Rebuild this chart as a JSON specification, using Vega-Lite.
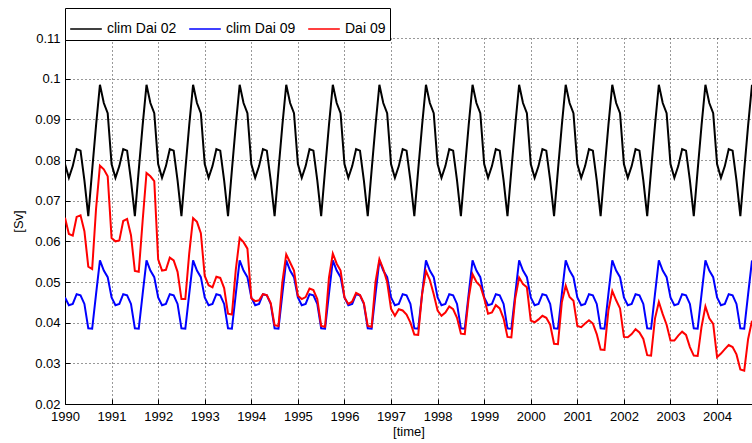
{
"$schema":"https://vega.github.io/schema/vega-lite/v6.json",
"width":687,"height":366,
"autosize":{"type":"none"},
"padding":{"left":65,"top":38,"right":0,"bottom":39},
"background":"white",
"config":{"view":{"stroke":null},"font":"Liberation Sans"},
"data":{"values":[
{"t":1990.0,"clim Dai 02":0.0790,"clim Dai 09":0.0462,"Dai 09":0.0658},
{"t":1990.0833,"clim Dai 02":0.0756,"clim Dai 09":0.0443,"Dai 09":0.0618},
{"t":1990.1667,"clim Dai 02":0.0785,"clim Dai 09":0.0446,"Dai 09":0.0614},
{"t":1990.25,"clim Dai 02":0.0827,"clim Dai 09":0.0470,"Dai 09":0.0660},
{"t":1990.3333,"clim Dai 02":0.0823,"clim Dai 09":0.0467,"Dai 09":0.0664},
{"t":1990.4167,"clim Dai 02":0.0750,"clim Dai 09":0.0446,"Dai 09":0.0625},
{"t":1990.5,"clim Dai 02":0.0662,"clim Dai 09":0.0386,"Dai 09":0.0538},
{"t":1990.5833,"clim Dai 02":0.0775,"clim Dai 09":0.0385,"Dai 09":0.0532},
{"t":1990.6667,"clim Dai 02":0.0885,"clim Dai 09":0.0470,"Dai 09":0.0680},
{"t":1990.75,"clim Dai 02":0.0985,"clim Dai 09":0.0553,"Dai 09":0.0786},
{"t":1990.8333,"clim Dai 02":0.0940,"clim Dai 09":0.0528,"Dai 09":0.0777},
{"t":1990.9167,"clim Dai 02":0.0915,"clim Dai 09":0.0512,"Dai 09":0.0760},
{"t":1991.0,"clim Dai 02":0.0790,"clim Dai 09":0.0462,"Dai 09":0.0608},
{"t":1991.0833,"clim Dai 02":0.0756,"clim Dai 09":0.0443,"Dai 09":0.0600},
{"t":1991.1667,"clim Dai 02":0.0785,"clim Dai 09":0.0446,"Dai 09":0.0602},
{"t":1991.25,"clim Dai 02":0.0827,"clim Dai 09":0.0470,"Dai 09":0.0650},
{"t":1991.3333,"clim Dai 02":0.0823,"clim Dai 09":0.0467,"Dai 09":0.0655},
{"t":1991.4167,"clim Dai 02":0.0750,"clim Dai 09":0.0446,"Dai 09":0.0615},
{"t":1991.5,"clim Dai 02":0.0662,"clim Dai 09":0.0386,"Dai 09":0.0527},
{"t":1991.5833,"clim Dai 02":0.0775,"clim Dai 09":0.0385,"Dai 09":0.0525},
{"t":1991.6667,"clim Dai 02":0.0885,"clim Dai 09":0.0470,"Dai 09":0.0650},
{"t":1991.75,"clim Dai 02":0.0985,"clim Dai 09":0.0553,"Dai 09":0.0768},
{"t":1991.8333,"clim Dai 02":0.0940,"clim Dai 09":0.0528,"Dai 09":0.0760},
{"t":1991.9167,"clim Dai 02":0.0915,"clim Dai 09":0.0512,"Dai 09":0.0748},
{"t":1992.0,"clim Dai 02":0.0790,"clim Dai 09":0.0462,"Dai 09":0.0556},
{"t":1992.0833,"clim Dai 02":0.0756,"clim Dai 09":0.0443,"Dai 09":0.0528},
{"t":1992.1667,"clim Dai 02":0.0785,"clim Dai 09":0.0446,"Dai 09":0.0530},
{"t":1992.25,"clim Dai 02":0.0827,"clim Dai 09":0.0470,"Dai 09":0.0560},
{"t":1992.3333,"clim Dai 02":0.0823,"clim Dai 09":0.0467,"Dai 09":0.0553},
{"t":1992.4167,"clim Dai 02":0.0750,"clim Dai 09":0.0446,"Dai 09":0.0525},
{"t":1992.5,"clim Dai 02":0.0662,"clim Dai 09":0.0386,"Dai 09":0.0458},
{"t":1992.5833,"clim Dai 02":0.0775,"clim Dai 09":0.0385,"Dai 09":0.0458},
{"t":1992.6667,"clim Dai 02":0.0885,"clim Dai 09":0.0470,"Dai 09":0.0570},
{"t":1992.75,"clim Dai 02":0.0985,"clim Dai 09":0.0553,"Dai 09":0.0657},
{"t":1992.8333,"clim Dai 02":0.0940,"clim Dai 09":0.0528,"Dai 09":0.0648},
{"t":1992.9167,"clim Dai 02":0.0915,"clim Dai 09":0.0512,"Dai 09":0.0620},
{"t":1993.0,"clim Dai 02":0.0790,"clim Dai 09":0.0462,"Dai 09":0.0515},
{"t":1993.0833,"clim Dai 02":0.0756,"clim Dai 09":0.0443,"Dai 09":0.0492},
{"t":1993.1667,"clim Dai 02":0.0785,"clim Dai 09":0.0446,"Dai 09":0.0487},
{"t":1993.25,"clim Dai 02":0.0827,"clim Dai 09":0.0470,"Dai 09":0.0513},
{"t":1993.3333,"clim Dai 02":0.0823,"clim Dai 09":0.0467,"Dai 09":0.0510},
{"t":1993.4167,"clim Dai 02":0.0750,"clim Dai 09":0.0446,"Dai 09":0.0485},
{"t":1993.5,"clim Dai 02":0.0662,"clim Dai 09":0.0386,"Dai 09":0.0422},
{"t":1993.5833,"clim Dai 02":0.0775,"clim Dai 09":0.0385,"Dai 09":0.0420},
{"t":1993.6667,"clim Dai 02":0.0885,"clim Dai 09":0.0470,"Dai 09":0.0530},
{"t":1993.75,"clim Dai 02":0.0985,"clim Dai 09":0.0553,"Dai 09":0.0608},
{"t":1993.8333,"clim Dai 02":0.0940,"clim Dai 09":0.0528,"Dai 09":0.0598},
{"t":1993.9167,"clim Dai 02":0.0915,"clim Dai 09":0.0512,"Dai 09":0.0582},
{"t":1994.0,"clim Dai 02":0.0790,"clim Dai 09":0.0462,"Dai 09":0.0460},
{"t":1994.0833,"clim Dai 02":0.0756,"clim Dai 09":0.0443,"Dai 09":0.0453},
{"t":1994.1667,"clim Dai 02":0.0785,"clim Dai 09":0.0446,"Dai 09":0.0455},
{"t":1994.25,"clim Dai 02":0.0827,"clim Dai 09":0.0470,"Dai 09":0.0470},
{"t":1994.3333,"clim Dai 02":0.0823,"clim Dai 09":0.0467,"Dai 09":0.0468},
{"t":1994.4167,"clim Dai 02":0.0750,"clim Dai 09":0.0446,"Dai 09":0.0448},
{"t":1994.5,"clim Dai 02":0.0662,"clim Dai 09":0.0386,"Dai 09":0.0394},
{"t":1994.5833,"clim Dai 02":0.0775,"clim Dai 09":0.0385,"Dai 09":0.0392},
{"t":1994.6667,"clim Dai 02":0.0885,"clim Dai 09":0.0470,"Dai 09":0.0500},
{"t":1994.75,"clim Dai 02":0.0985,"clim Dai 09":0.0553,"Dai 09":0.0568},
{"t":1994.8333,"clim Dai 02":0.0940,"clim Dai 09":0.0528,"Dai 09":0.0548},
{"t":1994.9167,"clim Dai 02":0.0915,"clim Dai 09":0.0512,"Dai 09":0.0528},
{"t":1995.0,"clim Dai 02":0.0790,"clim Dai 09":0.0462,"Dai 09":0.0466},
{"t":1995.0833,"clim Dai 02":0.0756,"clim Dai 09":0.0443,"Dai 09":0.0458},
{"t":1995.1667,"clim Dai 02":0.0785,"clim Dai 09":0.0446,"Dai 09":0.0463},
{"t":1995.25,"clim Dai 02":0.0827,"clim Dai 09":0.0470,"Dai 09":0.0484},
{"t":1995.3333,"clim Dai 02":0.0823,"clim Dai 09":0.0467,"Dai 09":0.0480},
{"t":1995.4167,"clim Dai 02":0.0750,"clim Dai 09":0.0446,"Dai 09":0.0458},
{"t":1995.5,"clim Dai 02":0.0662,"clim Dai 09":0.0386,"Dai 09":0.0392},
{"t":1995.5833,"clim Dai 02":0.0775,"clim Dai 09":0.0385,"Dai 09":0.0390},
{"t":1995.6667,"clim Dai 02":0.0885,"clim Dai 09":0.0470,"Dai 09":0.0510},
{"t":1995.75,"clim Dai 02":0.0985,"clim Dai 09":0.0553,"Dai 09":0.0570},
{"t":1995.8333,"clim Dai 02":0.0940,"clim Dai 09":0.0528,"Dai 09":0.0545},
{"t":1995.9167,"clim Dai 02":0.0915,"clim Dai 09":0.0512,"Dai 09":0.0528},
{"t":1996.0,"clim Dai 02":0.0790,"clim Dai 09":0.0462,"Dai 09":0.0462},
{"t":1996.0833,"clim Dai 02":0.0756,"clim Dai 09":0.0443,"Dai 09":0.0446},
{"t":1996.1667,"clim Dai 02":0.0785,"clim Dai 09":0.0446,"Dai 09":0.0452},
{"t":1996.25,"clim Dai 02":0.0827,"clim Dai 09":0.0470,"Dai 09":0.0473},
{"t":1996.3333,"clim Dai 02":0.0823,"clim Dai 09":0.0467,"Dai 09":0.0468},
{"t":1996.4167,"clim Dai 02":0.0750,"clim Dai 09":0.0446,"Dai 09":0.0448},
{"t":1996.5,"clim Dai 02":0.0662,"clim Dai 09":0.0386,"Dai 09":0.0392},
{"t":1996.5833,"clim Dai 02":0.0775,"clim Dai 09":0.0385,"Dai 09":0.0390},
{"t":1996.6667,"clim Dai 02":0.0885,"clim Dai 09":0.0470,"Dai 09":0.0500},
{"t":1996.75,"clim Dai 02":0.0985,"clim Dai 09":0.0553,"Dai 09":0.0556},
{"t":1996.8333,"clim Dai 02":0.0940,"clim Dai 09":0.0528,"Dai 09":0.0532},
{"t":1996.9167,"clim Dai 02":0.0915,"clim Dai 09":0.0512,"Dai 09":0.0500},
{"t":1997.0,"clim Dai 02":0.0790,"clim Dai 09":0.0462,"Dai 09":0.0434},
{"t":1997.0833,"clim Dai 02":0.0756,"clim Dai 09":0.0443,"Dai 09":0.0417},
{"t":1997.1667,"clim Dai 02":0.0785,"clim Dai 09":0.0446,"Dai 09":0.0433},
{"t":1997.25,"clim Dai 02":0.0827,"clim Dai 09":0.0470,"Dai 09":0.0430},
{"t":1997.3333,"clim Dai 02":0.0823,"clim Dai 09":0.0467,"Dai 09":0.0420},
{"t":1997.4167,"clim Dai 02":0.0750,"clim Dai 09":0.0446,"Dai 09":0.0400},
{"t":1997.5,"clim Dai 02":0.0662,"clim Dai 09":0.0386,"Dai 09":0.0371},
{"t":1997.5833,"clim Dai 02":0.0775,"clim Dai 09":0.0385,"Dai 09":0.0370},
{"t":1997.6667,"clim Dai 02":0.0885,"clim Dai 09":0.0470,"Dai 09":0.0470},
{"t":1997.75,"clim Dai 02":0.0985,"clim Dai 09":0.0553,"Dai 09":0.0527},
{"t":1997.8333,"clim Dai 02":0.0940,"clim Dai 09":0.0528,"Dai 09":0.0505},
{"t":1997.9167,"clim Dai 02":0.0915,"clim Dai 09":0.0512,"Dai 09":0.0470},
{"t":1998.0,"clim Dai 02":0.0790,"clim Dai 09":0.0462,"Dai 09":0.0430},
{"t":1998.0833,"clim Dai 02":0.0756,"clim Dai 09":0.0443,"Dai 09":0.0417},
{"t":1998.1667,"clim Dai 02":0.0785,"clim Dai 09":0.0446,"Dai 09":0.0425},
{"t":1998.25,"clim Dai 02":0.0827,"clim Dai 09":0.0470,"Dai 09":0.0440},
{"t":1998.3333,"clim Dai 02":0.0823,"clim Dai 09":0.0467,"Dai 09":0.0433},
{"t":1998.4167,"clim Dai 02":0.0750,"clim Dai 09":0.0446,"Dai 09":0.0412},
{"t":1998.5,"clim Dai 02":0.0662,"clim Dai 09":0.0386,"Dai 09":0.0373},
{"t":1998.5833,"clim Dai 02":0.0775,"clim Dai 09":0.0385,"Dai 09":0.0372},
{"t":1998.6667,"clim Dai 02":0.0885,"clim Dai 09":0.0470,"Dai 09":0.0460},
{"t":1998.75,"clim Dai 02":0.0985,"clim Dai 09":0.0553,"Dai 09":0.0519},
{"t":1998.8333,"clim Dai 02":0.0940,"clim Dai 09":0.0528,"Dai 09":0.0500},
{"t":1998.9167,"clim Dai 02":0.0915,"clim Dai 09":0.0512,"Dai 09":0.0490},
{"t":1999.0,"clim Dai 02":0.0790,"clim Dai 09":0.0462,"Dai 09":0.0460},
{"t":1999.0833,"clim Dai 02":0.0756,"clim Dai 09":0.0443,"Dai 09":0.0422},
{"t":1999.1667,"clim Dai 02":0.0785,"clim Dai 09":0.0446,"Dai 09":0.0425},
{"t":1999.25,"clim Dai 02":0.0827,"clim Dai 09":0.0470,"Dai 09":0.0443},
{"t":1999.3333,"clim Dai 02":0.0823,"clim Dai 09":0.0467,"Dai 09":0.0435},
{"t":1999.4167,"clim Dai 02":0.0750,"clim Dai 09":0.0446,"Dai 09":0.0410},
{"t":1999.5,"clim Dai 02":0.0662,"clim Dai 09":0.0386,"Dai 09":0.0365},
{"t":1999.5833,"clim Dai 02":0.0775,"clim Dai 09":0.0385,"Dai 09":0.0364},
{"t":1999.6667,"clim Dai 02":0.0885,"clim Dai 09":0.0470,"Dai 09":0.0460},
{"t":1999.75,"clim Dai 02":0.0985,"clim Dai 09":0.0553,"Dai 09":0.0511},
{"t":1999.8333,"clim Dai 02":0.0940,"clim Dai 09":0.0528,"Dai 09":0.0495},
{"t":1999.9167,"clim Dai 02":0.0915,"clim Dai 09":0.0512,"Dai 09":0.0487},
{"t":2000.0,"clim Dai 02":0.0790,"clim Dai 09":0.0462,"Dai 09":0.0405},
{"t":2000.0833,"clim Dai 02":0.0756,"clim Dai 09":0.0443,"Dai 09":0.0401},
{"t":2000.1667,"clim Dai 02":0.0785,"clim Dai 09":0.0446,"Dai 09":0.0408},
{"t":2000.25,"clim Dai 02":0.0827,"clim Dai 09":0.0470,"Dai 09":0.0417},
{"t":2000.3333,"clim Dai 02":0.0823,"clim Dai 09":0.0467,"Dai 09":0.0412},
{"t":2000.4167,"clim Dai 02":0.0750,"clim Dai 09":0.0446,"Dai 09":0.0395},
{"t":2000.5,"clim Dai 02":0.0662,"clim Dai 09":0.0386,"Dai 09":0.0348},
{"t":2000.5833,"clim Dai 02":0.0775,"clim Dai 09":0.0385,"Dai 09":0.0347},
{"t":2000.6667,"clim Dai 02":0.0885,"clim Dai 09":0.0470,"Dai 09":0.0450},
{"t":2000.75,"clim Dai 02":0.0985,"clim Dai 09":0.0553,"Dai 09":0.0491},
{"t":2000.8333,"clim Dai 02":0.0940,"clim Dai 09":0.0528,"Dai 09":0.0463},
{"t":2000.9167,"clim Dai 02":0.0915,"clim Dai 09":0.0512,"Dai 09":0.0454},
{"t":2001.0,"clim Dai 02":0.0790,"clim Dai 09":0.0462,"Dai 09":0.0392},
{"t":2001.0833,"clim Dai 02":0.0756,"clim Dai 09":0.0443,"Dai 09":0.0389},
{"t":2001.1667,"clim Dai 02":0.0785,"clim Dai 09":0.0446,"Dai 09":0.0398},
{"t":2001.25,"clim Dai 02":0.0827,"clim Dai 09":0.0470,"Dai 09":0.0406},
{"t":2001.3333,"clim Dai 02":0.0823,"clim Dai 09":0.0467,"Dai 09":0.0398},
{"t":2001.4167,"clim Dai 02":0.0750,"clim Dai 09":0.0446,"Dai 09":0.0372},
{"t":2001.5,"clim Dai 02":0.0662,"clim Dai 09":0.0386,"Dai 09":0.0334},
{"t":2001.5833,"clim Dai 02":0.0775,"clim Dai 09":0.0385,"Dai 09":0.0333},
{"t":2001.6667,"clim Dai 02":0.0885,"clim Dai 09":0.0470,"Dai 09":0.0430},
{"t":2001.75,"clim Dai 02":0.0985,"clim Dai 09":0.0553,"Dai 09":0.0478},
{"t":2001.8333,"clim Dai 02":0.0940,"clim Dai 09":0.0528,"Dai 09":0.0455},
{"t":2001.9167,"clim Dai 02":0.0915,"clim Dai 09":0.0512,"Dai 09":0.0435},
{"t":2002.0,"clim Dai 02":0.0790,"clim Dai 09":0.0462,"Dai 09":0.0365},
{"t":2002.0833,"clim Dai 02":0.0756,"clim Dai 09":0.0443,"Dai 09":0.0364},
{"t":2002.1667,"clim Dai 02":0.0785,"clim Dai 09":0.0446,"Dai 09":0.0372},
{"t":2002.25,"clim Dai 02":0.0827,"clim Dai 09":0.0470,"Dai 09":0.0384},
{"t":2002.3333,"clim Dai 02":0.0823,"clim Dai 09":0.0467,"Dai 09":0.0376},
{"t":2002.4167,"clim Dai 02":0.0750,"clim Dai 09":0.0446,"Dai 09":0.0360},
{"t":2002.5,"clim Dai 02":0.0662,"clim Dai 09":0.0386,"Dai 09":0.0320},
{"t":2002.5833,"clim Dai 02":0.0775,"clim Dai 09":0.0385,"Dai 09":0.0319},
{"t":2002.6667,"clim Dai 02":0.0885,"clim Dai 09":0.0470,"Dai 09":0.0410},
{"t":2002.75,"clim Dai 02":0.0985,"clim Dai 09":0.0553,"Dai 09":0.0451},
{"t":2002.8333,"clim Dai 02":0.0940,"clim Dai 09":0.0528,"Dai 09":0.0421},
{"t":2002.9167,"clim Dai 02":0.0915,"clim Dai 09":0.0512,"Dai 09":0.0395},
{"t":2003.0,"clim Dai 02":0.0790,"clim Dai 09":0.0462,"Dai 09":0.0356},
{"t":2003.0833,"clim Dai 02":0.0756,"clim Dai 09":0.0443,"Dai 09":0.0356},
{"t":2003.1667,"clim Dai 02":0.0785,"clim Dai 09":0.0446,"Dai 09":0.0368},
{"t":2003.25,"clim Dai 02":0.0827,"clim Dai 09":0.0470,"Dai 09":0.0378},
{"t":2003.3333,"clim Dai 02":0.0823,"clim Dai 09":0.0467,"Dai 09":0.0370},
{"t":2003.4167,"clim Dai 02":0.0750,"clim Dai 09":0.0446,"Dai 09":0.0340},
{"t":2003.5,"clim Dai 02":0.0662,"clim Dai 09":0.0386,"Dai 09":0.0319},
{"t":2003.5833,"clim Dai 02":0.0775,"clim Dai 09":0.0385,"Dai 09":0.0318},
{"t":2003.6667,"clim Dai 02":0.0885,"clim Dai 09":0.0470,"Dai 09":0.0390},
{"t":2003.75,"clim Dai 02":0.0985,"clim Dai 09":0.0553,"Dai 09":0.0440},
{"t":2003.8333,"clim Dai 02":0.0940,"clim Dai 09":0.0528,"Dai 09":0.0411},
{"t":2003.9167,"clim Dai 02":0.0915,"clim Dai 09":0.0512,"Dai 09":0.0397},
{"t":2004.0,"clim Dai 02":0.0790,"clim Dai 09":0.0462,"Dai 09":0.0315},
{"t":2004.0833,"clim Dai 02":0.0756,"clim Dai 09":0.0443,"Dai 09":0.0324},
{"t":2004.1667,"clim Dai 02":0.0785,"clim Dai 09":0.0446,"Dai 09":0.0335},
{"t":2004.25,"clim Dai 02":0.0827,"clim Dai 09":0.0470,"Dai 09":0.0345},
{"t":2004.3333,"clim Dai 02":0.0823,"clim Dai 09":0.0467,"Dai 09":0.0340},
{"t":2004.4167,"clim Dai 02":0.0750,"clim Dai 09":0.0446,"Dai 09":0.0322},
{"t":2004.5,"clim Dai 02":0.0662,"clim Dai 09":0.0386,"Dai 09":0.0285},
{"t":2004.5833,"clim Dai 02":0.0775,"clim Dai 09":0.0385,"Dai 09":0.0282},
{"t":2004.6667,"clim Dai 02":0.0885,"clim Dai 09":0.0470,"Dai 09":0.0360},
{"t":2004.75,"clim Dai 02":0.0985,"clim Dai 09":0.0553,"Dai 09":0.0405}
]},
"transform":[{"fold":["clim Dai 02","clim Dai 09","Dai 09"],"as":["series","v"]}],
"mark":{"type":"line","strokeWidth":2,"clip":true},
"encoding":{
"x":{"field":"t","type":"quantitative","scale":{"domain":[1990,2004.75],"nice":false,"zero":false},
"axis":{"values":[1990,1991,1992,1993,1994,1995,1996,1997,1998,1999,2000,2001,2002,2003,2004],"format":"d","title":"[time]","titleFontWeight":"normal","titleFontSize":13,"titleFont":"Liberation Sans","titlePadding":2,"labelFontSize":13,"labelFont":"Liberation Sans","labelColor":"#000","titleColor":"#000","labelPadding":11,"tickSize":-5,"tickColor":"#000","domainColor":"#000","grid":true,"gridColor":"#000","gridDash":[1,3],"gridOpacity":0.8,"labelFlush":false,"labelOverlap":false}},
"y":{"field":"v","type":"quantitative","scale":{"domain":[0.02,0.11],"nice":false,"zero":false},
"axis":{"values":[0.02,0.03,0.04,0.05,0.06,0.07,0.08,0.09,0.1,0.11],"format":".2~f","title":"[Sv]","titleFontWeight":"normal","titleFontSize":13,"titleFont":"Liberation Sans","titlePadding":9,"labelFontSize":13,"labelFont":"Liberation Sans","labelColor":"#000","titleColor":"#000","labelPadding":10,"tickSize":-5,"tickColor":"#000","domainColor":"#000","grid":true,"gridColor":"#000","gridDash":[1,3],"gridOpacity":0.8,"labelOverlap":false}},
"color":{"field":"series","type":"nominal","scale":{"domain":["clim Dai 02","clim Dai 09","Dai 09"],"range":["#000000","#0000ff","#ff0000"]},
"legend":{"title":null,"orient":"none","legendX":0,"legendY":-30,"direction":"horizontal","fillColor":"white","strokeColor":"#000","padding":4,"symbolType":"stroke","symbolSize":1000,"symbolStrokeWidth":1.5,"labelFontSize":14,"labelFont":"Liberation Sans","labelColor":"#000","labelOffset":4,"columnPadding":9}}
}
}
